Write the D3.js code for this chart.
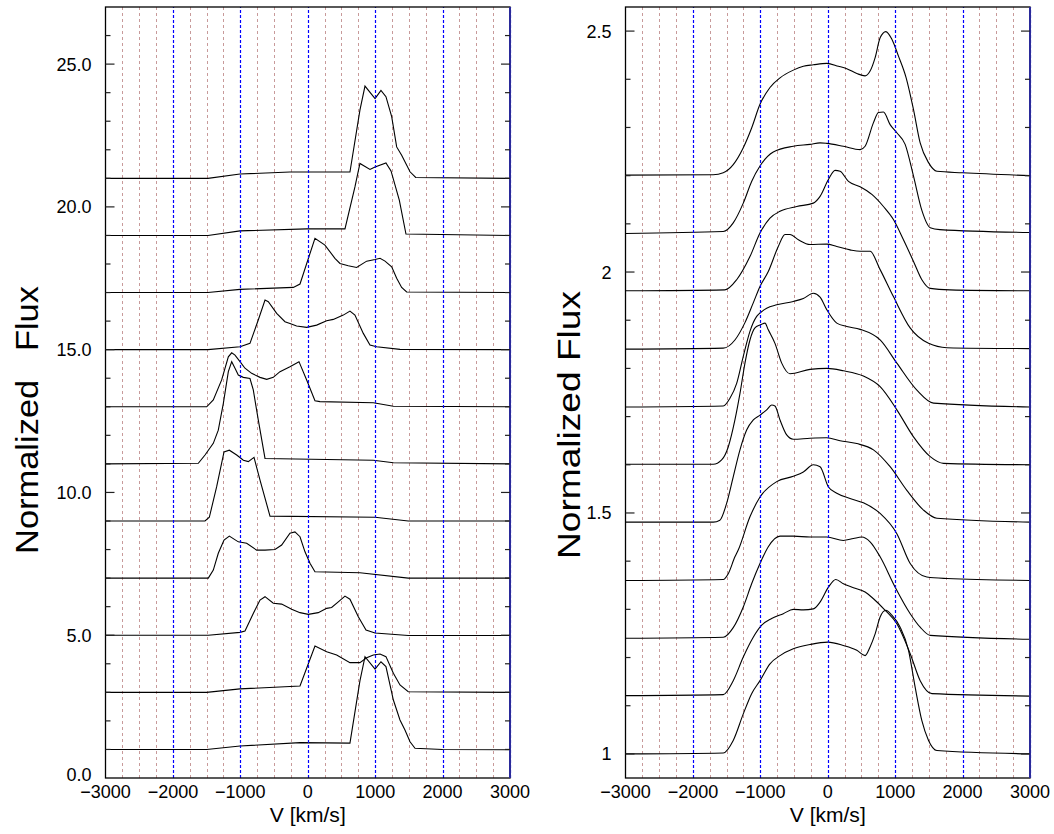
<!DOCTYPE html>
<html>
<head>
<meta charset="utf-8">
<script src="https://cdn.jsdelivr.net/npm/d3@7"></script>
<style>
  html, body { margin: 0; padding: 0; background: #fff; }
  svg { display: block; }
  text { font-family: "Liberation Sans", Arial, Helvetica, sans-serif; fill: #000; }
</style>
</head>
<body>
<svg id="chart" width="1054" height="834"></svg>
<script>
// ---------------- DATA ----------------
// Left panel: velocity [km/s], normalized flux (offset by 2 each)
const left01 = [[-3000,1.0],[-1500,1.0],[-1005,1.12],[-115,1.24],[626,1.22],[774,3.4],[849,4.25],[998,3.81],[1086,4.07],[1160,3.90],[1270,2.73],[1368,2.03],[1442,1.68],[1517,1.27],[1591,1.04],[2000,1.0],[3000,0.99]];
const left02 = [[-3000,3.0],[-1500,3.0],[-1005,3.12],[-115,3.22],[107,4.62],[281,4.42],[429,4.31],[626,4.04],[774,4.04],[874,4.21],[973,4.31],[1072,4.34],[1160,4.25],[1270,3.67],[1368,3.26],[1491,3.02],[3000,3.0]];
const left03 = [[-3000,5.0],[-1475,5.0],[-1005,5.1],[-931,5.15],[-808,5.76],[-708,6.23],[-634,6.35],[-511,6.12],[-387,6.09],[-239,5.91],[-115,5.79],[8,5.73],[156,5.79],[280,5.94],[354,5.97],[453,6.17],[552,6.37],[626,6.26],[750,5.65],[864,5.18],[998,5.08],[1491,4.99],[3000,4.99]];
const left04 = [[-3000,7.0],[-1475,7.0],[-1401,7.28],[-1327,7.87],[-1242,8.33],[-1163,8.47],[-1030,8.27],[-906,8.22],[-758,7.98],[-634,7.98],[-486,8.0],[-387,8.16],[-264,8.57],[-190,8.62],[-115,8.45],[-41,7.92],[33,7.52],[107,7.22],[774,7.19],[1491,7.0],[3000,7.0]];
const left05 = [[-3000,9.0],[-1524,9.0],[-1460,9.13],[-1351,10.2],[-1242,11.42],[-1163,11.48],[-1054,11.31],[-955,11.13],[-882,11.08],[-797,11.23],[-708,10.43],[-560,9.17],[998,9.13],[1491,9.0],[3000,9.0]];
const left06 = [[-3000,11.0],[-1623,11.02],[-1524,11.31],[-1401,11.72],[-1327,12.18],[-1252,13.12],[-1178,14.23],[-1128,14.58],[-1079,14.35],[-1030,14.11],[-956,14.03],[-857,13.99],[-808,13.59],[-734,12.54],[-634,11.19],[973,11.13],[1270,11.04],[3000,11.0]];
const left07 = [[-3000,13.0],[-1499,13.0],[-1401,13.24],[-1277,13.94],[-1178,14.75],[-1128,14.89],[-1079,14.81],[-1005,14.58],[-931,14.35],[-832,14.17],[-708,14.03],[-609,13.96],[-511,14.03],[-412,14.23],[-264,14.4],[-130,14.58],[-16,13.94],[107,13.21],[181,13.18],[973,13.14],[1270,13.02],[3000,13.0]];
const left08 = [[-3000,15.0],[-1480,15.0],[-1005,15.1],[-857,15.22],[-734,16.04],[-634,16.74],[-585,16.68],[-461,16.27],[-338,15.98],[-264,15.92],[-165,15.83],[-16,15.78],[132,15.86],[280,16.01],[379,16.06],[527,16.21],[626,16.35],[700,16.21],[824,15.57],[923,15.16],[1022,15.1],[1368,15.01],[3000,15.0]];
const left09 = [[-3000,17.0],[-1480,17.0],[-1005,17.11],[-214,17.18],[-115,17.3],[107,18.9],[255,18.66],[403,18.2],[478,18.02],[601,17.94],[725,17.88],[874,18.1],[998,18.16],[1072,18.2],[1146,18.1],[1245,17.9],[1319,17.5],[1393,17.18],[1467,17.02],[3000,17.0]];
const left10 = [[-3000,19.0],[-1480,19.0],[-1005,19.16],[-16,19.23],[552,19.23],[700,20.7],[774,21.52],[923,21.31],[998,21.4],[1160,21.54],[1235,21.26],[1358,20.24],[1457,19.05],[3000,19.0]];
const left11 = [[-3000,21.0],[-1480,21.0],[-1005,21.15],[-264,21.22],[626,21.22],[774,23.39],[849,24.23],[998,23.79],[1086,24.08],[1160,23.86],[1245,23.16],[1319,22.1],[1393,21.81],[1517,21.23],[1601,21.03],[3000,21.0]];

// Right panel: velocity [km/s], normalized flux (offset by 0.12 each)
const right01 = [[-3000,1.0],[-1550,1.002],[-1402,1.028],[-1253,1.083],[-1129,1.125],[-1005,1.152],[-857,1.187],[-708,1.204],[-511,1.218],[-263,1.227],[0,1.232],[232,1.225],[431,1.215],[554,1.204],[628,1.222],[703,1.249],[777,1.284],[862,1.298],[951,1.288],[1074,1.263],[1198,1.215],[1297,1.138],[1396,1.069],[1495,1.028],[1619,1.007],[3000,1.0]];
const right02 = [[-3000,1.121],[-1550,1.123],[-1402,1.152],[-1253,1.201],[-1105,1.242],[-980,1.267],[-832,1.281],[-659,1.291],[-511,1.3],[-362,1.299],[-214,1.301],[-114,1.315],[10,1.346],[119,1.362],[232,1.353],[381,1.345],[554,1.336],[678,1.322],[852,1.298],[1025,1.27],[1223,1.208],[1371,1.152],[1545,1.125],[3000,1.12]];
const right03 = [[-3000,1.240],[-1550,1.242],[-1402,1.262],[-1253,1.305],[-1129,1.353],[-1005,1.395],[-882,1.43],[-708,1.452],[-511,1.452],[-263,1.45],[-15,1.45],[232,1.443],[381,1.447],[505,1.45],[628,1.44],[777,1.409],[1000,1.346],[1223,1.291],[1371,1.263],[1520,1.246],[3000,1.238]];
const right04 = [[-3000,1.36],[-1550,1.362],[-1476,1.374],[-1377,1.409],[-1328,1.423],[-1154,1.492],[-1005,1.533],[-757,1.565],[-511,1.576],[-362,1.585],[-214,1.6],[-114,1.596],[10,1.554],[134,1.541],[331,1.53],[529,1.521],[777,1.499],[1025,1.457],[1223,1.395],[1470,1.367],[1767,1.364],[3000,1.36]];
const right05 = [[-3000,1.481],[-1699,1.481],[-1600,1.485],[-1500,1.52],[-1402,1.575],[-1302,1.631],[-1203,1.672],[-1104,1.693],[-1005,1.703],[-906,1.714],[-832,1.724],[-783,1.722],[-708,1.693],[-609,1.662],[-511,1.653],[-263,1.655],[-15,1.656],[183,1.65],[431,1.644],[678,1.631],[925,1.596],[1173,1.547],[1420,1.506],[1619,1.489],[3000,1.481]];
const right06 = [[-3000,1.601],[-1699,1.601],[-1574,1.61],[-1476,1.637],[-1377,1.693],[-1302,1.748],[-1228,1.811],[-1154,1.859],[-1080,1.884],[-1005,1.89],[-931,1.894],[-882,1.88],[-783,1.852],[-683,1.811],[-560,1.789],[-263,1.798],[-15,1.8],[232,1.795],[529,1.784],[777,1.762],[1025,1.714],[1272,1.658],[1520,1.617],[1718,1.603],[3000,1.6]];
const right07 = [[-3000,1.72],[-1550,1.722],[-1451,1.738],[-1351,1.769],[-1253,1.825],[-1154,1.877],[-1054,1.908],[-1005,1.915],[-906,1.925],[-757,1.932],[-511,1.939],[-362,1.945],[-214,1.956],[-114,1.948],[-15,1.922],[134,1.894],[282,1.887],[480,1.881],[777,1.859],[1025,1.811],[1322,1.755],[1569,1.728],[3000,1.72]];
const right08 = [[-3000,1.84],[-1550,1.842],[-1377,1.859],[-1228,1.895],[-1105,1.936],[-1005,1.970],[-882,2.001],[-734,2.053],[-634,2.078],[-560,2.078],[-436,2.067],[-263,2.057],[-15,2.058],[134,2.053],[331,2.046],[480,2.043],[628,2.043],[777,2.005],[974,1.949],[1222,1.884],[1495,1.852],[1767,1.843],[3000,1.841]];
const right09 = [[-3000,1.961],[-1525,1.963],[-1351,1.984],[-1154,2.032],[-1005,2.081],[-857,2.112],[-708,2.126],[-460,2.136],[-214,2.143],[-114,2.157],[10,2.192],[109,2.211],[183,2.209],[307,2.188],[480,2.177],[654,2.161],[826,2.136],[974,2.109],[1123,2.067],[1272,2.022],[1396,1.984],[1520,1.966],[1812,1.963],[3000,1.961]];
const right10 = [[-3000,2.08],[-1550,2.084],[-1402,2.102],[-1253,2.143],[-1129,2.188],[-1005,2.220],[-808,2.249],[-511,2.261],[-263,2.265],[-114,2.268],[-15,2.267],[232,2.261],[480,2.254],[554,2.261],[678,2.31],[752,2.331],[826,2.332],[925,2.306],[1025,2.289],[1148,2.265],[1272,2.199],[1396,2.128],[1520,2.092],[1663,2.088],[3000,2.082]];
const right11 = [[-3000,2.201],[-1700,2.202],[-1550,2.206],[-1402,2.223],[-1253,2.258],[-1129,2.299],[-1005,2.348],[-857,2.383],[-708,2.403],[-511,2.419],[-362,2.427],[-214,2.43],[-15,2.433],[158,2.427],[282,2.422],[431,2.412],[554,2.407],[628,2.417],[703,2.445],[777,2.486],[862,2.499],[951,2.483],[1049,2.448],[1163,2.403],[1272,2.337],[1371,2.268],[1495,2.227],[1619,2.209],[2000,2.206],[3000,2.20]];

const leftSeries = [left01, left02, left03, left04, left05, left06, left07, left08, left09, left10, left11];
const rightSeries = [right01, right02, right03, right04, right05, right06, right07, right08, right09, right10, right11];

const xTicks = [-3000, -2000, -1000, 0, 1000, 2000, 3000];
const leftYTicks = [0, 5, 10, 15, 20, 25];
const leftYTickLabels = ["0.0", "5.0", "10.0", "15.0", "20.0", "25.0"];
const rightYTicks = [1, 1.5, 2, 2.5];
const rightYTickLabels = ["1", "1.5", "2", "2.5"];
const leftYTitle = "Normalized   Flux";
const rightYTitle = "Normalized Flux";
const xTitle = "V [km/s]";

// ---------------- DRAW ----------------
const svg = d3.select("#chart");
svg.append("rect").attr("width", 1054).attr("height", 834).attr("fill", "#fff");

function panel(cfg) {
  const x = d3.scaleLinear().domain([-3000, 3000]).range([cfg.x0, cfg.x1]);
  const y = d3.scaleLinear().domain(cfg.yDomain).range([cfg.y0, cfg.y1]);
  const g = svg.append("g");

  // vertical grid: minor every 250, major every 1000
  const minor = d3.range(-2750, 3001, 250).filter(v => v % 1000 !== 0);
  const major = d3.range(-2000, 3001, 1000);
  g.selectAll(".gminor").data(minor).join("line")
    .attr("x1", d => Math.round(x(d)) + 0.5).attr("x2", d => Math.round(x(d)) + 0.5)
    .attr("y1", cfg.y0).attr("y2", cfg.y1)
    .attr("stroke", "#c89a9a").attr("stroke-width", 1)
    .attr("stroke-dasharray", "3,3");

  // curves
  const line = d3.line().x(d => x(d[0])).y(d => y(d[1])).curve(cfg.curve);
  g.selectAll(".spec").data(cfg.series).join("path")
    .attr("d", line).attr("fill", "none").attr("stroke", "#000").attr("stroke-width", 1.1);

  g.selectAll(".gmajor").data(major).join("line")
    .attr("x1", d => Math.round(x(d)) + 0.5).attr("x2", d => Math.round(x(d)) + 0.5)
    .attr("y1", cfg.y0).attr("y2", cfg.y1)
    .attr("stroke", "#0000ff").attr("stroke-width", 1.2)
    .attr("stroke-dasharray", "3,2");

  // frame
  g.append("rect")
    .attr("x", cfg.x0).attr("y", cfg.y1)
    .attr("width", cfg.x1 - cfg.x0).attr("height", cfg.y0 - cfg.y1)
    .attr("fill", "none").attr("stroke", "#000").attr("stroke-width", 1.3);
  g.append("line").attr("x1", cfg.x1).attr("x2", cfg.x1).attr("y1", cfg.y0).attr("y2", cfg.y1)
    .attr("stroke", "#2a2a9a").attr("stroke-width", 2);

  // y ticks (inward both sides)
  const yMinor = cfg.yMinor;
  g.selectAll(".ytl").data(yMinor).join("line")
    .attr("x1", cfg.x0).attr("x2", d => cfg.x0 + (cfg.isMajor(d) ? 9 : 5))
    .attr("y1", d => y(d)).attr("y2", d => y(d)).attr("stroke", "#222").attr("stroke-width", 1.2);
  g.selectAll(".ytr").data(yMinor).join("line")
    .attr("x1", cfg.x1).attr("x2", d => cfg.x1 - (cfg.isMajor(d) ? 9 : 5))
    .attr("y1", d => y(d)).attr("y2", d => y(d)).attr("stroke", "#222").attr("stroke-width", 1.2);

  // y tick labels
  g.selectAll(".ylab").data(cfg.yTicks).join("text")
    .attr("x", cfg.x0 - 14).attr("y", d => Math.min(y(d) + 6.5, 781))
    .attr("text-anchor", "end")
    .attr("font-size", 18)
    .text((d, i) => cfg.yTickLabels[i]);

  // x tick labels
  g.selectAll(".xlab").data(xTicks).join("text")
    .attr("x", d => x(d)).attr("y", 798)
    .attr("text-anchor", "middle").attr("font-size", 18)
    .text(d => d < 0 ? "\u2212" + Math.abs(d) : String(d));

  // axis titles
  g.append("text")
    .attr("x", (cfg.x0 + cfg.x1) / 2).attr("y", 822)
    .attr("text-anchor", "middle").attr("font-size", 20)
    .attr("textLength", 76).attr("lengthAdjust", "spacingAndGlyphs")
    .text(xTitle);
  g.append("text")
    .attr("transform", `translate(${cfg.titleX},${cfg.titleY}) rotate(-90)`)
    .attr("text-anchor", "middle").attr("font-size", 31)
    .attr("textLength", 268).attr("lengthAdjust", "spacingAndGlyphs")
    .style("white-space", "pre")
    .text(cfg.yTitle);
}

panel({
  x0: 105.5, x1: 510, y0: 778, y1: 7, yDomain: [0, 27],
  series: leftSeries, curve: d3.curveLinear,
  yMinor: d3.range(1, 27, 1),
  isMajor: d => d % 5 === 0,
  yTicks: leftYTicks, yTickLabels: leftYTickLabels,
  yTitle: leftYTitle, titleX: 38, titleY: 420
});

panel({
  x0: 625.5, x1: 1030, y0: 778, y1: 7, yDomain: [0.95, 2.55],
  series: rightSeries, curve: d3.curveMonotoneX,
  yMinor: d3.range(10, 26, 1).map(v => v / 10),
  isMajor: d => Math.abs(d * 2 - Math.round(d * 2)) < 1e-6,
  yTicks: rightYTicks, yTickLabels: rightYTickLabels,
  yTitle: rightYTitle, titleX: 580, titleY: 425
});
</script>
</body>
</html>
